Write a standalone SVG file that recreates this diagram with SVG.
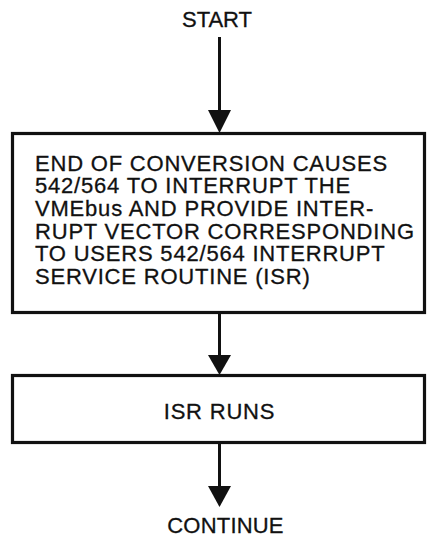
<svg xmlns="http://www.w3.org/2000/svg" width="427" height="538" viewBox="0 0 427 538">
  <style>
    .box { fill: #ffffff; stroke: #111111; stroke-width: 3.2; }
    .line { stroke: #111111; stroke-width: 3; fill: none; }
    .head { fill: #111111; }
    text { font-family: "Liberation Sans", Arial, Helvetica, sans-serif; font-size: 22px; fill: #111111; stroke: #111111; stroke-width: 0.3; letter-spacing: 0.8px; }
    .c { text-anchor: middle; }
  </style>
  <rect width="427" height="538" fill="#ffffff"/>
  <g id="connectors">
    <line class="line" x1="219.5" y1="37" x2="219.5" y2="112"/>
    <polygon class="head" points="208,110 231,110 219.5,133"/>
    <line class="line" x1="219.5" y1="313" x2="219.5" y2="357"/>
    <polygon class="head" points="208,355 231,355 219.5,375"/>
    <line class="line" x1="219.5" y1="443" x2="219.5" y2="488"/>
    <polygon class="head" points="208,486 231,486 219.5,507"/>
  </g>
  <g id="start">
    <text class="c" x="217" y="27" style="letter-spacing:0">START</text>
  </g>
  <g id="interrupt">
    <rect class="box" x="12.5" y="133.5" width="412" height="179"/>
    <text x="35" y="170.5">END OF CONVERSION CAUSES</text>
    <text x="35" y="193.2">542/564 TO INTERRUPT THE</text>
    <text x="35" y="215.9">VMEbus AND PROVIDE INTER-</text>
    <text x="35" y="238.6">RUPT VECTOR CORRESPONDING</text>
    <text x="35" y="261.3">TO USERS 542/564 INTERRUPT</text>
    <text x="35" y="284">SERVICE ROUTINE (ISR)</text>
  </g>
  <g id="isr-runs">
    <rect class="box" x="12.5" y="375.5" width="412" height="67"/>
    <text class="c" x="219.5" y="419">ISR RUNS</text>
  </g>
  <g id="continue">
    <text class="c" x="225.5" y="533" style="letter-spacing:0.2px">CONTINUE</text>
  </g>
</svg>
